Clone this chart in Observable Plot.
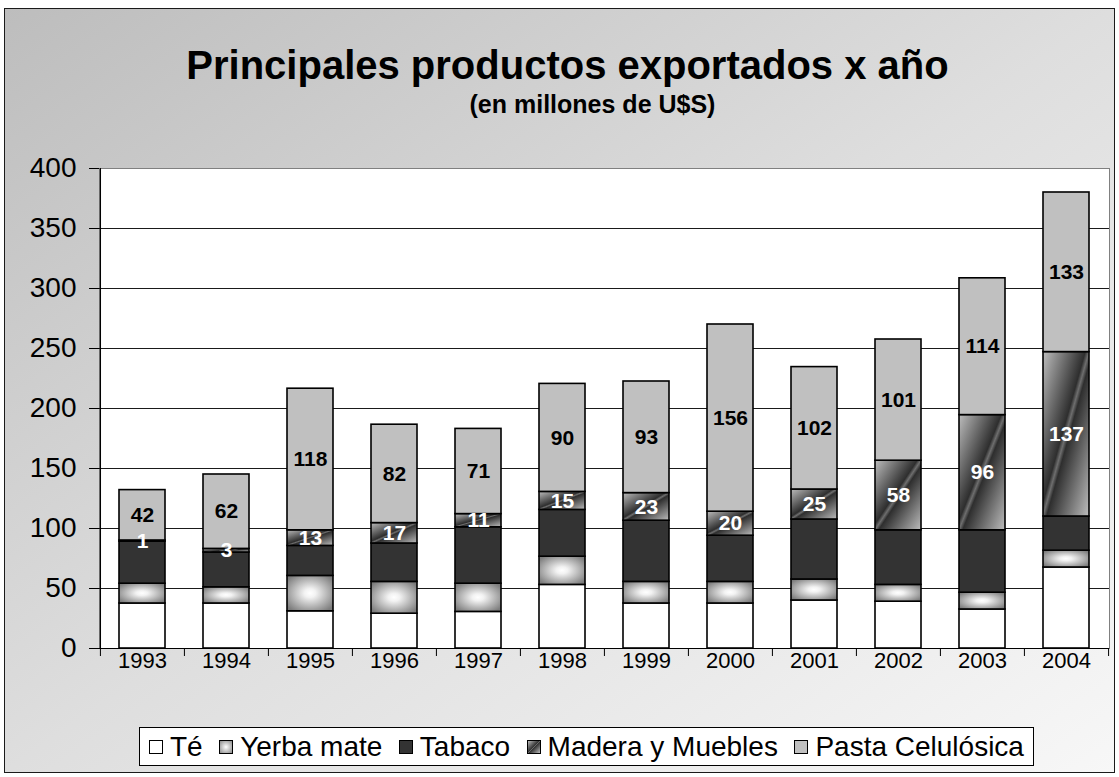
<!DOCTYPE html>
<html>
<head>
<meta charset="utf-8">
<script src="https://cdn.jsdelivr.net/npm/d3@7"></script>
<script src="https://cdn.jsdelivr.net/npm/@observablehq/plot@0.6"></script>
<style>
  html, body { margin: 0; padding: 0; background: #ffffff; }
  #wrap { position: relative; width: 1119px; height: 777px; overflow: hidden; font-family: "Liberation Sans", Arial, sans-serif; }
  #bg { position: absolute; left: 4px; top: 8px; width: 1109px; height: 763px; border: 1px solid #1a1a1a;
        background: linear-gradient(to bottom right, #bdbdbd 0%, #dedede 50%, #f7f7f7 100%); }
  #title { position: absolute; left: 8px; top: 45px; width: 1119px; text-align: center; font-weight: bold; font-size: 40px; line-height: 40px; color: #000; }
  #subtitle { position: absolute; left: 33px; top: 92px; width: 1119px; text-align: center; font-weight: bold; font-size: 25px; line-height: 25px; color: #000; }
  #chart { position: absolute; left: 0; top: 140px; }
  #legend { position: absolute; left: 139px; top: 727px; width: 895px; height: 39px; background: #fff; border: 1px solid #000;
            display: flex; align-items: center; justify-content: space-between; padding: 0 9px; box-sizing: border-box; font-size: 28px; color: #000; white-space: nowrap; }
  .item { display: inline-flex; align-items: center; }
  .sw { display: inline-block; width: 14px; height: 14px; border: 1px solid #000; margin-right: 7px; box-sizing: border-box; }
</style>
</head>
<body>
<div id="wrap">
  <div id="bg"></div>
  <div id="title">Principales productos exportados x año</div>
  <div id="subtitle">(en millones de U$S)</div>
  <div id="chart"></div>
  <div id="legend"></div>
</div>
<script>
// ---- data ----
const years = ["1993","1994","1995","1996","1997","1998","1999","2000","2001","2002","2003","2004"];
const seriesNames = ["Té","Yerba mate","Tabaco","Madera y Muebles","Pasta Celulósica"];
const te     = [37.5, 37.5, 31, 29, 30.5, 53, 37.5, 37.5, 40, 39, 32.5, 67.5];
const yerba  = [16.5, 13.5, 29.5, 26.5, 23.5, 23.5, 18, 18, 17.5, 14, 14, 14];
const tabaco = [35, 29, 25, 32, 47, 39, 51, 38.5, 50, 45.5, 52, 28.5];
const madera = [1, 3, 13, 17, 11, 15, 23, 20, 25, 58, 96, 137];
const pasta  = [42, 62, 118, 82, 71, 90, 93, 156, 102, 101, 114, 133];
const yTicks = [0, 50, 100, 150, 200, 250, 300, 350, 400];

const seriesValues = [te, yerba, tabaco, madera, pasta];
const fills = ["#ffffff", "url(#gYerba)", "#333333", "url(#gMadera)", "#c0c0c0"];
const cssFills = ["#ffffff",
  "radial-gradient(ellipse at center, #ffffff 0%, #8a8a8a 100%)",
  "#333333",
  "linear-gradient(135deg, #bdbdbd 0%, #2e2e2e 48%, #6a6a6a 50%, #2e2e2e 52%, #bdbdbd 100%)",
  "#c0c0c0"];

const data = [];
years.forEach((yr, i) => seriesNames.forEach((s, k) => data.push({year: yr, series: s, value: seriesValues[k][i]})));

const W = 1119, H = 540, ML = 99, MR = 10, MT = 28, MB = 32;
const step = (W - ML - MR) / years.length;

const chart = Plot.plot({
  width: W, height: H,
  marginLeft: ML, marginRight: MR, marginTop: MT, marginBottom: MB,
  style: {background: "transparent", fontFamily: "'Liberation Sans', Arial, sans-serif", color: "#000", overflow: "visible"},
  x: {domain: years, paddingInner: 0.45, paddingOuter: 0.225, label: null},
  y: {domain: [0, 400], label: null},
  color: {domain: seriesNames, range: fills},
  marks: [
    Plot.frame({fill: "white", stroke: "#808080"}),
    Plot.ruleY(yTicks.filter(d => d > 0 && d < 400), {stroke: "#1a1a1a", strokeWidth: 1}),
    Plot.barY(data, {x: "year", y: "value", fill: "series", stroke: "#000", strokeWidth: 1.6, order: seriesNames}),
    Plot.text(data, Plot.stackY({x: "year", y: "value", z: "series", order: seriesNames,
      text: d => d.series === "Madera y Muebles" ? String(d.value) : null,
      fill: "white", fontWeight: "bold", fontSize: 21})),
    Plot.text(data, Plot.stackY({x: "year", y: "value", z: "series", order: seriesNames,
      text: d => d.series === "Pasta Celulósica" ? String(d.value) : null,
      fill: "black", fontWeight: "bold", fontSize: 21})),
    Plot.ruleY([0], {stroke: "#000", strokeWidth: 1.2}),
    Plot.ruleX([years[0]], {dx: -step / 2, stroke: "#000", strokeWidth: 1.2}),
    Plot.ruleX(years, {y1: 0, y2: 0, insetBottom: -8, dx: -step / 2, stroke: "#000"}),
    Plot.ruleX([years[years.length - 1]], {y1: 0, y2: 0, insetBottom: -8, dx: step / 2, stroke: "#000"}),
    Plot.axisY({ticks: yTicks, tickSize: 10, tickPadding: 13, fontSize: 28, tickFormat: d => String(d)}),
    Plot.axisX({tickSize: 0, tickPadding: 4, fontSize: 22})
  ]
});

// gradient definitions for the patterned series
const svg = d3.select(chart.tagName.toLowerCase() === "svg" ? chart : chart.querySelector("svg"));
const defs = svg.insert("defs", ":first-child");
const rg = defs.append("radialGradient").attr("id", "gYerba").attr("cx", 0.5).attr("cy", 0.5).attr("r", 0.62);
rg.append("stop").attr("offset", 0).attr("stop-color", "#ffffff");
rg.append("stop").attr("offset", 0.2).attr("stop-color", "#f2f2f2");
rg.append("stop").attr("offset", 1).attr("stop-color", "#7c7c7c");
const lg = defs.append("linearGradient").attr("id", "gMadera").attr("x1", 0).attr("y1", 0).attr("x2", 1).attr("y2", 1);
[[0, "#bdbdbd"], [0.46, "#2e2e2e"], [0.5, "#6e6e6e"], [0.54, "#2e2e2e"], [1, "#bdbdbd"]]
  .forEach(([o, c]) => lg.append("stop").attr("offset", o).attr("stop-color", c));

document.getElementById("chart").appendChild(chart);

// legend
const legend = document.getElementById("legend");
seriesNames.forEach((s, k) => {
  const it = document.createElement("span");
  it.className = "item";
  const sw = document.createElement("span");
  sw.className = "sw";
  sw.style.background = cssFills[k];
  it.appendChild(sw);
  it.appendChild(document.createTextNode(s));
  legend.appendChild(it);
});
</script>
</body>
</html>
